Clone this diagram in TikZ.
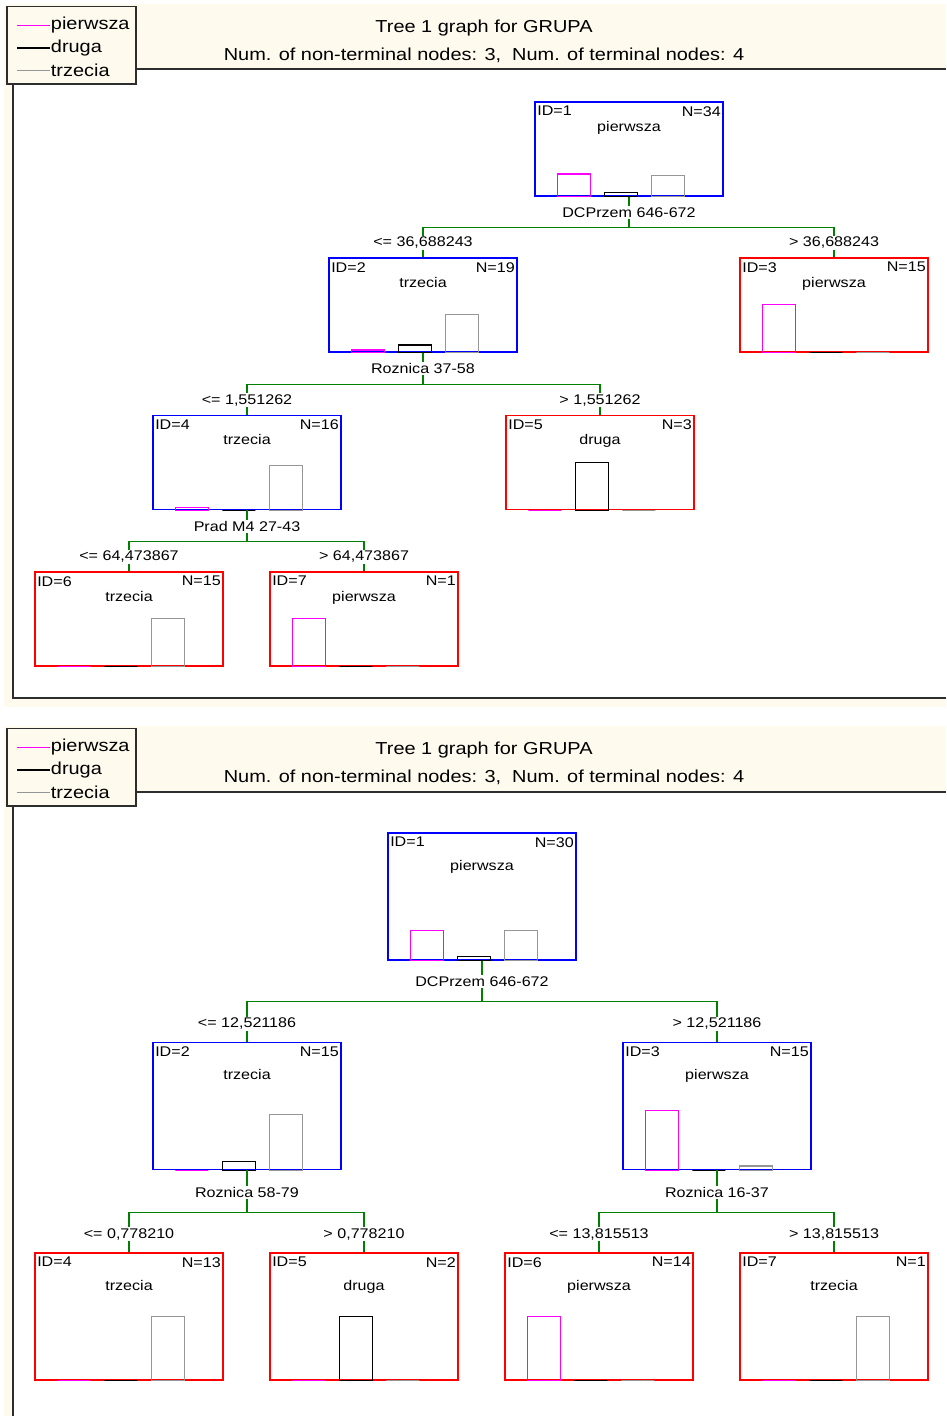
\documentclass[tikz,border=0pt]{standalone}
\usepackage{fontspec}
\setmainfont[FakeStretch=1.15]{Liberation Sans}
\usetikzlibrary{calc}

\definecolor{cream}{RGB}{255,250,238}
\definecolor{splitgreen}{RGB}{0,128,0}
\definecolor{pinkclass}{RGB}{255,0,255}
\definecolor{grayclass}{RGB}{150,150,150}
\definecolor{framegray}{RGB}{45,45,45}

\newcommand\nodefont{\fontsize{10.5}{12}\selectfont}
\newcommand\headfont{\fontsize{13}{15}\selectfont}

% bars: node, pierwsza, druga, trzecia, N (height scaled by \barmax)
\newcommand\classbars[5]{%
  \draw[pbar] ($(#1.south west)+(23,0)$) rectangle ++(33,{-#2*\barmax/#5});
  \draw[dbar] ($(#1.south west)+(70,0)$) rectangle ++(33,{-#3*\barmax/#5});
  \draw[tbar] ($(#1.south west)+(117,0)$) rectangle ++(33,{-#4*\barmax/#5});
}

\begin{document}
\begin{tikzpicture}
  [x=0.75pt, y=-0.75pt, font=\nodefont,
   box/.style={draw, line width=1pt, minimum width=141pt, inner sep=0pt},
   inner/.style={box, draw=blue, minimum height=#1},
   leaf/.style={box, draw=red, minimum height=#1},
   idl/.style={anchor=north west, inner sep=2pt, yshift=-1.5pt},
   nl/.style={anchor=north east, inner sep=2pt, yshift=-1.5pt},
   cl/.style={anchor=base, yshift={-#1*0.75pt}, inner sep=0pt},
   pbar/.style={draw=pinkclass, line width=1pt},
   dbar/.style={draw=black, line width=1pt},
   tbar/.style={draw=grayclass, line width=1pt},
   branch/.style={draw=splitgreen, line width=1pt},
   split/.style={fill=white, inner sep=1pt},
   cut/.style={fill=white, inner sep=1pt},
   frameline/.style={draw=framegray, line width=1.5pt},
   legbox/.style={draw=framegray, fill=cream, line width=1pt, minimum width=96.75pt, minimum height=58pt, inner sep=0pt},
   legtext/.style={anchor=west, inner sep=0.5pt, font=\headfont},
   headtext/.style={font=\headfont, inner sep=0pt}]

  \useasboundingbox (0,0) rectangle (946,1416);

  % backgrounds
  \fill[cream] (4,4) rectangle (946,707);
  \fill[white] (12.5,69.5) rectangle (946,697.5);
  \fill[cream] (4,726) rectangle (946,1416);
  \fill[white] (12.5,791.7) rectangle (946,1416);

  % ---------- first tree ----------
  \draw[frameline] (136,69.5) -- (946,69.5);
  \draw[frameline] (12.5,84) -- (12.5,697.5) -- (946,697.5);
  \node[legbox] (leg_a) at (71.5,45.3) {};
  \node[legtext] (la_1) at (50,25.5) {pierwsza};
  \node[legtext] (la_2) at (50,48) {druga};
  \node[legtext] (la_3) at (50,70.5) {trzecia};
  \draw[pbar] (la_1.west) -- ++(-33,0);
  \draw[dbar] (la_2.west) -- ++(-33,0);
  \draw[tbar] (la_3.west) -- ++(-33,0);
  \node[headtext] (ta_1) at (484,28.5) {Tree 1 graph for GRUPA};
  \node[headtext] (ta_2) at (484,55) {Num. of non-terminal nodes: 3,\ \ Num. of terminal nodes: 4};

  \node[inner=70.5pt, label={[idl]north west:ID=1}, label={[nl]north east:N=34}, label={[cl=30]north:pierwsza}] (a_1) at (629,149) {};
  \node[inner=70.5pt, label={[idl]north west:ID=2}, label={[nl]north east:N=19}, label={[cl=30]north:trzecia}] (a_2) at (423,305) {};
  \node[leaf=70.5pt, label={[idl]north west:ID=3}, label={[nl]north east:N=15}, label={[cl=30]north:pierwsza}] (a_3) at (834,305) {};
  \node[inner=70.5pt, label={[idl]north west:ID=4}, label={[nl]north east:N=16}, label={[cl=30]north:trzecia}] (a_4) at (247,462.5) {};
  \node[leaf=70.5pt, label={[idl]north west:ID=5}, label={[nl]north east:N=3}, label={[cl=30]north:druga}] (a_5) at (600,462.5) {};
  \node[leaf=70.5pt, label={[idl]north west:ID=6}, label={[nl]north east:N=15}, label={[cl=30]north:trzecia}] (a_6) at (129,619) {};
  \node[leaf=70.5pt, label={[idl]north west:ID=7}, label={[nl]north east:N=1}, label={[cl=30]north:pierwsza}] (a_7) at (364,619) {};

  \def\barmax{48}
  \classbars{a_1}{16}{3}{15}{34}
  \classbars{a_2}{1}{3}{15}{19}
  \classbars{a_3}{15}{0}{0}{15}
  \classbars{a_4}{1}{0}{15}{16}
  \classbars{a_5}{0}{3}{0}{3}
  \classbars{a_6}{0}{0}{15}{15}
  \classbars{a_7}{1}{0}{0}{1}

  \draw[branch] (a_1.south) -- ++(0,31) -| (a_2.north);
  \draw[branch] (a_1.south) -- ++(0,31) -| (a_3.north);
  \draw[branch] (a_2.south) -- ++(0,32) -| (a_4.north);
  \draw[branch] (a_2.south) -- ++(0,32) -| (a_5.north);
  \draw[branch] (a_4.south) -- ++(0,31) -| (a_6.north);
  \draw[branch] (a_4.south) -- ++(0,31) -| (a_7.north);

  \node[split] (sa_1) at ($(a_1.south)+(0,16)$) {DCPrzem 646-672};
  \node[split] (sa_2) at ($(a_2.south)+(0,16)$) {Roznica 37-58};
  \node[split] (sa_4) at ($(a_4.south)+(0,16)$) {Prad M4 27-43};
  \node[cut] (ca_2) at ($(a_2.north)+(0,-14.5)$) {<= 36,688243};
  \node[cut] (ca_3) at ($(a_3.north)+(0,-14.5)$) {> 36,688243};
  \node[cut] (ca_4) at ($(a_4.north)+(0,-14.5)$) {<= 1,551262};
  \node[cut] (ca_5) at ($(a_5.north)+(0,-14.5)$) {> 1,551262};
  \node[cut] (ca_6) at ($(a_6.north)+(0,-14.5)$) {<= 64,473867};
  \node[cut] (ca_7) at ($(a_7.north)+(0,-14.5)$) {> 64,473867};

  % ---------- second tree ----------
  \draw[frameline] (136,791.7) -- (946,791.7);
  \draw[frameline] (12.5,806) -- (12.5,1416);
  \node[legbox] (leg_b) at (71.5,767.3) {};
  \node[legtext] (lb_1) at (50,747.5) {pierwsza};
  \node[legtext] (lb_2) at (50,770) {druga};
  \node[legtext] (lb_3) at (50,792.5) {trzecia};
  \draw[pbar] (lb_1.west) -- ++(-33,0);
  \draw[dbar] (lb_2.west) -- ++(-33,0);
  \draw[tbar] (lb_3.west) -- ++(-33,0);
  \node[headtext] (tb_1) at (484,750.5) {Tree 1 graph for GRUPA};
  \node[headtext] (tb_2) at (484,777) {Num. of non-terminal nodes: 3,\ \ Num. of terminal nodes: 4};

  \node[inner=95.25pt, label={[idl]north west:ID=1}, label={[nl]north east:N=30}, label={[cl=38]north:pierwsza}] (b_1) at (482,896.5) {};
  \node[inner=95.25pt, label={[idl]north west:ID=2}, label={[nl]north east:N=15}, label={[cl=38]north:trzecia}] (b_2) at (247,1106) {};
  \node[inner=95.25pt, label={[idl]north west:ID=3}, label={[nl]north east:N=15}, label={[cl=38]north:pierwsza}] (b_3) at (717,1106) {};
  \node[leaf=95.25pt, label={[idl]north west:ID=4}, label={[nl]north east:N=13}, label={[cl=38]north:trzecia}] (b_4) at (129,1316.5) {};
  \node[leaf=95.25pt, label={[idl]north west:ID=5}, label={[nl]north east:N=2}, label={[cl=38]north:druga}] (b_5) at (364,1316.5) {};
  \node[leaf=95.25pt, label={[idl]north west:ID=6}, label={[nl]north east:N=14}, label={[cl=38]north:pierwsza}] (b_6) at (599,1316.5) {};
  \node[leaf=95.25pt, label={[idl]north west:ID=7}, label={[nl]north east:N=1}, label={[cl=38]north:trzecia}] (b_7) at (834,1316.5) {};

  \def\barmax{64}
  \classbars{b_1}{14}{2}{14}{30}
  \classbars{b_2}{0}{2}{13}{15}
  \classbars{b_3}{14}{0}{1}{15}
  \classbars{b_4}{0}{0}{13}{13}
  \classbars{b_5}{0}{2}{0}{2}
  \classbars{b_6}{14}{0}{0}{14}
  \classbars{b_7}{0}{0}{1}{1}

  \draw[branch] (b_1.south) -- ++(0,41) -| (b_2.north);
  \draw[branch] (b_1.south) -- ++(0,41) -| (b_3.north);
  \draw[branch] (b_2.south) -- ++(0,42) -| (b_4.north);
  \draw[branch] (b_2.south) -- ++(0,42) -| (b_5.north);
  \draw[branch] (b_3.south) -- ++(0,42) -| (b_6.north);
  \draw[branch] (b_3.south) -- ++(0,42) -| (b_7.north);

  \node[split] (sb_1) at ($(b_1.south)+(0,21)$) {DCPrzem 646-672};
  \node[split] (sb_2) at ($(b_2.south)+(0,22)$) {Roznica 58-79};
  \node[split] (sb_3) at ($(b_3.south)+(0,22)$) {Roznica 16-37};
  \node[cut] (cb_2) at ($(b_2.north)+(0,-18)$) {<= 12,521186};
  \node[cut] (cb_3) at ($(b_3.north)+(0,-18)$) {> 12,521186};
  \node[cut] (cb_4) at ($(b_4.north)+(0,-18)$) {<= 0,778210};
  \node[cut] (cb_5) at ($(b_5.north)+(0,-18)$) {> 0,778210};
  \node[cut] (cb_6) at ($(b_6.north)+(0,-18)$) {<= 13,815513};
  \node[cut] (cb_7) at ($(b_7.north)+(0,-18)$) {> 13,815513};
\end{tikzpicture}
\end{document}
